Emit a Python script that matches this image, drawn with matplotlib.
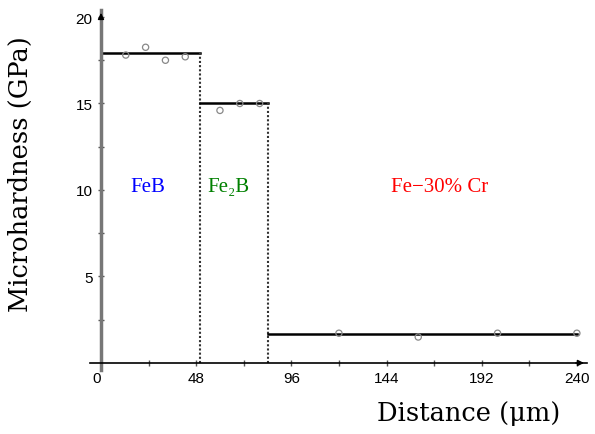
import matplotlib.pyplot as plt

# Layer levels (GPa) and boundaries (um)
layer_names = ["FeB", "Fe\u2082B", "Fe\u221230% Cr"]
layer_colors = ["blue", "green", "red"]
layer_start = [0, 50, 84]
layer_end = [50, 84, 240]
layer_level = [17.9, 15.0, 1.7]

# Measured points
meas_x = [12.5, 22.5, 32.5, 42.5, 60, 70, 80, 120, 160, 200, 240]
meas_y = [17.8, 18.25, 17.5, 17.7, 14.6, 15.0, 15.0, 1.72, 1.5, 1.72, 1.72]

x_ticks = [0, 48, 96, 144, 192, 240]
x_minor = [24, 72, 120, 168, 216]
y_ticks = [5, 10, 15, 20]
y_minor = [2.5, 7.5, 12.5, 17.5]

fig = plt.figure(figsize=(5.95, 4.35), dpi=100)
ax = fig.add_axes([0.1514, 0.1474, 0.8348, 0.8271])
ax.set_xlim(-5.5, 245)
ax.set_ylim(-0.4, 20.4)

for s in ["top", "right"]:
    ax.spines[s].set_visible(False)
ax.spines["bottom"].set_position(("data", 0))
ax.spines["left"].set_position(("data", 0))
ax.spines["bottom"].set_linewidth(1.2)
ax.spines["left"].set_linewidth(2.5)
ax.spines["left"].set_color("#777777")

# arrow heads
ax.annotate("", xy=(245, 0), xytext=(238, 0),
            arrowprops=dict(arrowstyle="-|>", color="black", lw=1, mutation_scale=9))
ax.annotate("", xy=(0, 20.4), xytext=(0, 19.7),
            arrowprops=dict(arrowstyle="-|>", color="black", lw=1, mutation_scale=9))

ax.set_xticks(x_ticks)
ax.set_xticks(x_minor, minor=True)
ax.set_yticks(y_ticks)
ax.set_yticks(y_minor, minor=True)
ax.tick_params(which="both", direction="inout", length=5, width=1, color="#555555")
ax.tick_params(labelsize=11)
for lab in ax.get_xticklabels() + ax.get_yticklabels():
    lab.set_fontfamily("Liberation Sans")
ax.get_xticklabels()[0].set_horizontalalignment("right")

for i in range(3):
    ax.plot([layer_start[i], layer_end[i]], [layer_level[i]] * 2, color="black", lw=1.8)
    if i < 2:
        ax.plot([layer_end[i]] * 2, [0, layer_level[i]], color="#333333",
                lw=1.5, linestyle=(0, (1, 1)))

ax.scatter(meas_x, meas_y, s=20, facecolors="none", edgecolors="#888888",
           linewidths=0.9, zorder=3)

label_x = [23.5, 64.5, 171]
for i in range(3):
    ax.text(label_x[i], 10.2, layer_names[i], color=layer_colors[i],
            fontsize=15, family=["Liberation Serif", "DejaVu Serif"],
            ha="center", va="center")

fig.text(0.787, 0.05, "Distance (\u03bcm)", fontsize=18.5,
         family="DejaVu Serif", ha="center", va="center")
fig.text(0.035, 0.6, "Microhardness (GPa)", fontsize=18.5, family="DejaVu Serif",
         ha="center", va="center", rotation=90)

fig.savefig("out.png", dpi=100)
